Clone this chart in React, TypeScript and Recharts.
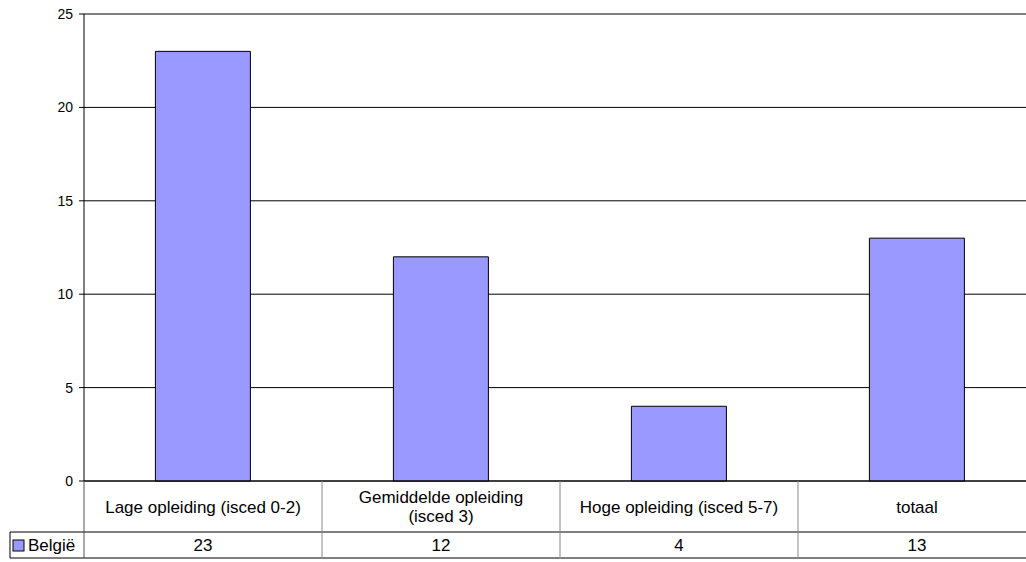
import { Bar, BarChart, CartesianGrid, XAxis, YAxis } from "recharts";

const categories = [
  "Lage opleiding (isced 0-2)",
  "Gemiddelde opleiding (isced 3)",
  "Hoge opleiding (isced 5-7)",
  "totaal",
];
const belgie = [23, 12, 4, 13];
const seriesName = "België";
const yTicks = [0, 5, 10, 15, 20, 25];

const data = categories.map((c, i) => ({ category: c, value: belgie[i] }));

const W = 1040;
const H = 562;
const Y_AXIS_W = 84;
const X_AXIS_H = 81;
const MARGIN = { top: 14, right: 4, bottom: 0, left: 0 };
const BAND = (W - MARGIN.left - MARGIN.right - Y_AXIS_W) / categories.length;
const FONT = "'Liberation Sans', Arial, sans-serif";
const FILL = "#9999ff";

function wrap(text: string, max = 26) {
  const words = text.split(" ");
  const lines: string[] = [];
  let cur = "";
  for (const w of words) {
    const next = cur ? cur + " " + w : w;
    if (next.length > max && cur) {
      lines.push(cur);
      cur = w;
    } else cur = next;
  }
  if (cur) lines.push(cur);
  return lines;
}

function TableTick(props: any) {
  const { x, y, index, payload } = props;
  const half = BAND / 2;
  const row1 = y + 51;
  const row2 = y + 77;
  const lines = wrap(String(payload.value));
  const mid = (y + row1) / 2;
  const lh = 19;
  const first = mid - ((lines.length - 1) * lh) / 2;
  return (
    <g fontFamily={FONT} fontSize={17} fill="#000">
      {index === 0 && (
        <g>
          <line x1={10} x2={W} y1={row1} y2={row1} stroke="#000" />
          <line x1={10} x2={W} y1={row2} y2={row2} stroke="#000" />
          <line x1={10} x2={10} y1={row1} y2={row2} stroke="#000" />
          <line x1={x - half} x2={x - half} y1={y} y2={row2} stroke="#555" />
          <rect x={13} y={540} width={11} height={11} fill={FILL} stroke="#000" />
          <text x={28} y={(row1 + row2) / 2} dy="0.36em" textAnchor="start">
            {seriesName}
          </text>
        </g>
      )}
      {index > 0 && (
        <line x1={x - half} x2={x - half} y1={y} y2={row2} stroke="#888" />
      )}
      {lines.map((l, i) => (
        <text key={i} x={x} y={first + i * lh} dy="0.36em" textAnchor="middle">
          {l}
        </text>
      ))}
      <text x={x} y={(row1 + row2) / 2} dy="0.36em" textAnchor="middle">
        {belgie[index]}
      </text>
    </g>
  );
}

export default function App() {
  return (
    <div
      style={{
        position: "absolute",
        left: 0,
        top: 0,
        width: 1026,
        height: H,
        overflow: "hidden",
        background: "#fff",
      }}
    >
      <BarChart width={W} height={H} data={data} margin={MARGIN} barCategoryGap="30%">
        <CartesianGrid vertical={false} stroke="#000" />
        <XAxis
          dataKey="category"
          height={X_AXIS_H}
          tickLine={false}
          tickSize={0}
          tickMargin={0}
          axisLine={{ stroke: "#000" }}
          interval={0}
          tick={<TableTick />}
        />
        <YAxis
          width={Y_AXIS_W}
          domain={[0, 25]}
          ticks={yTicks}
          interval={0}
          tickSize={5}
          tickMargin={6}
          axisLine={{ stroke: "#000" }}
          tickLine={{ stroke: "#000" }}
          tick={{ fill: "#000", fontSize: 14, fontFamily: FONT }}
        />
        <Bar dataKey="value" fill={FILL} stroke="#000" strokeWidth={1} isAnimationActive={false} />
      </BarChart>
    </div>
  );
}
